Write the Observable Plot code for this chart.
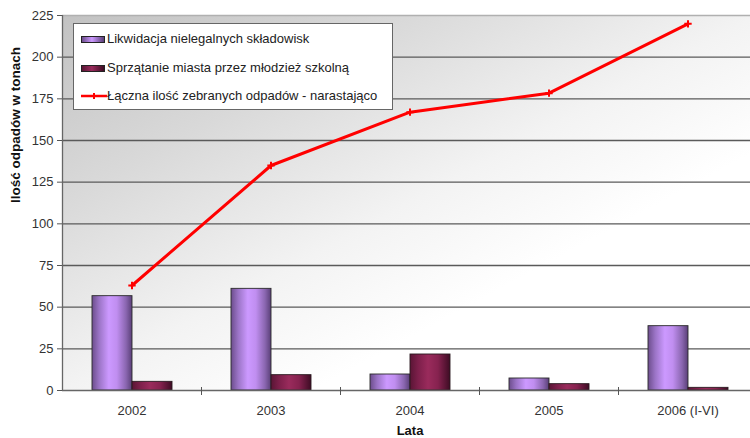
<!DOCTYPE html>
<html>
<head>
<meta charset="utf-8">
<script src="https://cdn.jsdelivr.net/npm/d3@7"></script>
<script src="https://cdn.jsdelivr.net/npm/@observablehq/plot@0.6"></script>
<style>
  html, body { margin: 0; padding: 0; background: #fff; overflow: hidden; }
  #wrap { position: relative; width: 750px; height: 438px; overflow: hidden; font-family: "Liberation Sans", Arial, sans-serif; }
  #wrap > svg { max-width: none !important; display: block; }
  #legend { position: absolute; left: 73px; top: 23px; width: 320px; height: 87px; box-sizing: border-box; border: 1px solid #666; background: #fff; }
  .row { position: absolute; left: 7px; height: 16px; line-height: 16px; font-size: 13px; color: #222; white-space: nowrap; display: flex; align-items: center; }
  .sw { width: 24px; height: 7px; margin-right: 2px; border: 1px solid #222; box-sizing: border-box; }
</style>
</head>
<body>
<div id="wrap"></div>
<script>
// ---- data ----
const categories = ["2002", "2003", "2004", "2005", "2006 (I-VI)"];
const likwidacja = [56.6, 61, 9.6, 7.2, 38.6];
const sprzatanie = [5.2, 9.2, 21.6, 3.8, 1.6];
const laczna = [63, 135, 167, 178.4, 220];
const yTicks = [0, 25, 50, 75, 100, 125, 150, 175, 200, 225];
const seriesNames = [
  "Likwidacja nielegalnych składowisk",
  "Sprzątanie miasta przez młodzież szkolną",
  "Łączna ilość zebranych odpadów - narastająco"
];
const yTitle = "Ilość odpadów w tonach";
const xTitle = "Lata";

// ---- tables ----
const barsA = categories.map((c, i) => ({year: c, value: likwidacja[i]}));
const barsB = categories.map((c, i) => ({year: c, value: sprzatanie[i]}));
const lineData = categories.map((c, i) => ({year: c, value: laczna[i]}));

const W = 757, ML = 62, MR = 0;
const step = (W - ML - MR) / categories.length;

const plot = Plot.plot({
  width: W,
  height: 438,
  marginLeft: ML,
  marginRight: MR,
  marginTop: 15,
  marginBottom: 48,
  style: {fontFamily: "Liberation Sans, Arial, sans-serif", fontSize: "13px", color: "#333", background: "transparent", overflow: "visible", maxWidth: "none"},
  x: {domain: categories, padding: 0, axis: null},
  y: {domain: [0, 225], axis: null},
  marks: [
    Plot.frame({fill: "url(#bgGrad)", stroke: "none"}),
    Plot.ruleY(yTicks.filter(t => t > 0 && t < 225), {stroke: "#5a5a5a", strokeWidth: 1.3}),
    Plot.ruleY([225], {stroke: "#b0b0b0", strokeWidth: 1.5}),
    Plot.barY(barsA, {x: "year", y: "value", insetLeft: 30, insetRight: step - 70, fill: "url(#gPurple)", stroke: "#2a2a2a", strokeWidth: 0.9}),
    Plot.barY(barsB, {x: "year", y: "value", insetLeft: 70, insetRight: step - 110, fill: "url(#gMaroon)", stroke: "#2a1a20", strokeWidth: 0.9}),
    Plot.ruleY([0], {stroke: "#666", strokeWidth: 1.3}),
    Plot.ruleX(categories.slice(0, 1), {x: d => d, dx: -step / 2, y1: 0, y2: 225, stroke: "#666", strokeWidth: 1.3}),
    Plot.ruleX(categories.slice(1), {x: d => d, dx: -step / 2, y1: 1.8, y2: -3, stroke: "#555", strokeWidth: 1}),
    Plot.axisY({ticks: yTicks, tickSize: 5, tickPadding: 4, stroke: "#555", fill: "#333", label: null, fontSize: 13}),
    Plot.axisX({tickSize: 0, tickPadding: 15, fill: "#333", label: null, fontSize: 13}),
    Plot.line(lineData, {x: "year", y: "value", stroke: "#ff0000", strokeWidth: 3}),
    Plot.dot(lineData, {x: "year", y: "value", symbol: "plus", r: 2.5, stroke: "#ff0000", strokeWidth: 2}),
    Plot.text([yTitle], {frameAnchor: "left", dx: -47, rotate: -90, fontWeight: "bold", fontSize: 13.5, fill: "#111"}),
    Plot.text([xTitle], {frameAnchor: "bottom", dy: 44, fontWeight: "bold", fontSize: 13, fill: "#111"})
  ]
});
plot.style.maxWidth = "none";

plot.insertAdjacentHTML("afterbegin", `
<defs>
  <linearGradient id="bgGrad" x1="0" y1="0" x2="1" y2="1">
    <stop offset="0" stop-color="#c2c2c2"/>
    <stop offset="0.25" stop-color="#d9d9d9"/>
    <stop offset="0.5" stop-color="#f3f3f3"/>
    <stop offset="0.68" stop-color="#ffffff"/>
  </linearGradient>
  <linearGradient id="gPurple" x1="0" y1="0" x2="1" y2="0">
    <stop offset="0" stop-color="#6c4d8c"/>
    <stop offset="0.18" stop-color="#9b74c6"/>
    <stop offset="0.42" stop-color="#cc99ff"/>
    <stop offset="0.62" stop-color="#c08ef0"/>
    <stop offset="0.85" stop-color="#8a66b0"/>
    <stop offset="1" stop-color="#5a3f78"/>
  </linearGradient>
  <linearGradient id="gMaroon" x1="0" y1="0" x2="1" y2="0">
    <stop offset="0" stop-color="#5a1535"/>
    <stop offset="0.2" stop-color="#7c1f4a"/>
    <stop offset="0.45" stop-color="#9a2b5c"/>
    <stop offset="0.7" stop-color="#86224f"/>
    <stop offset="1" stop-color="#3e0c24"/>
  </linearGradient>
</defs>`);

const wrap = document.getElementById("wrap");
wrap.appendChild(plot);

// legend (HTML overlay)
const legend = document.createElement("div");
legend.id = "legend";
const rowTops = [39, 68, 96];
const swatchStyles = [
  "background: linear-gradient(to right, #6c4d8c, #cc99ff 45%, #5a3f78);",
  "background: linear-gradient(to right, #5a1535, #9a2b5c 45%, #3e0c24);",
  null
];
seriesNames.forEach((name, i) => {
  const row = document.createElement("div");
  row.className = "row";
  row.style.top = (rowTops[i] - 23 - 1 - 8) + "px";
  let sw;
  if (swatchStyles[i]) {
    sw = `<span class="sw" style="${swatchStyles[i]}"></span>`;
  } else {
    sw = `<svg width="26" height="10" style="margin-right:0px"><line x1="0" y1="5" x2="26" y2="5" stroke="#ff0000" stroke-width="2.5"/><line x1="13" y1="2" x2="13" y2="8" stroke="#ff0000" stroke-width="2"/></svg>`;
  }
  row.innerHTML = sw + `<span>${name}</span>`;
  legend.appendChild(row);
});
wrap.appendChild(legend);
</script>
</body>
</html>
